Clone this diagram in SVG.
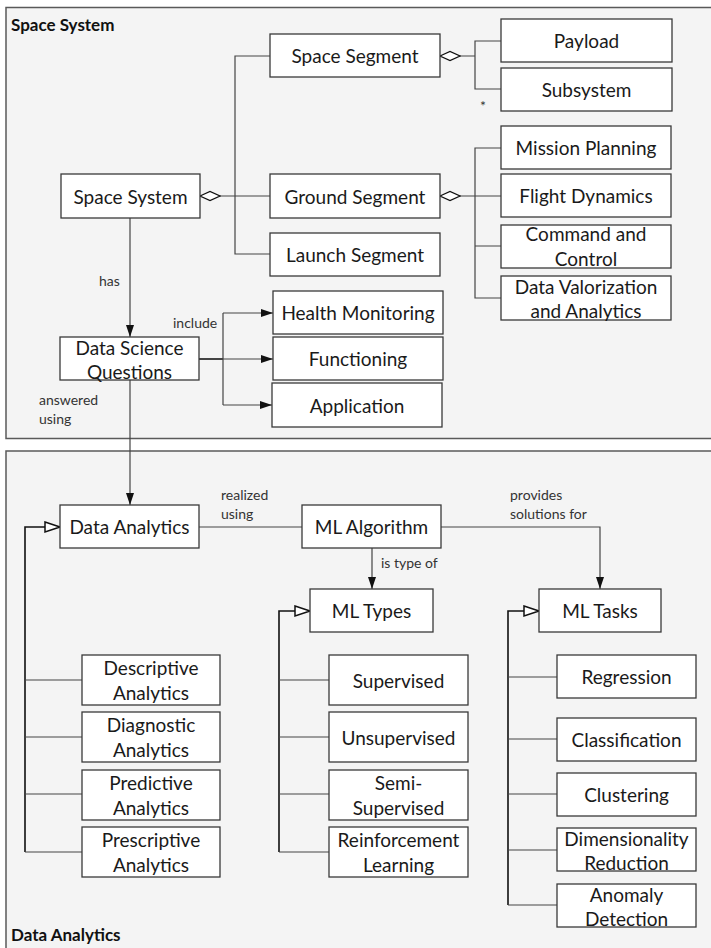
<svg xmlns="http://www.w3.org/2000/svg" width="711" height="948" viewBox="0 0 711 948">
<style>
.frame{fill:#f4f4f4;stroke:#5a5a5a;stroke-width:1.5}
.box{fill:#fff;stroke:#3a3a3a;stroke-width:1.3}
.t{font-family:Lato,"Open Sans",sans-serif;font-size:19px;fill:#1a1a1a;text-anchor:middle;dominant-baseline:central}
.lbl{font-family:Lato,"Open Sans",sans-serif;font-size:14px;fill:#333}
.title{font-family:Lato,"Open Sans",sans-serif;font-size:17px;font-weight:bold;fill:#111}
.c{fill:none;stroke:#444;stroke-width:1.2}
.g{fill:none;stroke:#111;stroke-width:1.6}
</style>
<defs>
<marker id="arr" markerUnits="userSpaceOnUse" markerWidth="12" markerHeight="10" viewBox="0 0 12 10" refX="12" refY="5" orient="auto"><path d="M0,1 L12,5 L0,9 Z" fill="#111"/></marker>
<marker id="dia" markerUnits="userSpaceOnUse" markerWidth="22" markerHeight="12" viewBox="-1 -1 22 12" refX="0" refY="5" orient="auto"><path d="M0,5 L10,0.5 L20,5 L10,9.5 Z" fill="#fff" stroke="#111" stroke-width="1.3"/></marker>
<marker id="gen" markerUnits="userSpaceOnUse" markerWidth="17" markerHeight="13" viewBox="-1 -1 17 13" refX="15" refY="5.5" orient="auto"><path d="M0,0.5 L15,5.5 L0,10.5 Z" fill="#fff" stroke="#111" stroke-width="1.5"/></marker>
</defs>
<rect width="711" height="948" fill="#fff"/>
<rect class="frame" x="6" y="7.5" width="720" height="431"/>
<rect class="frame" x="6" y="451" width="720" height="510"/>
<text class="title" x="11" y="31">Space System</text>
<text class="title" x="11" y="941">Data Analytics</text>

<g id="connectors">
<path class="c" d="M200,196 H270" marker-start="url(#dia)"/>
<path class="c" d="M270,56 H235 V254 H270"/>
<path class="c" d="M440,56 H475" marker-start="url(#dia)"/>
<path class="c" d="M501,41 H475 V89 H501"/>
<path class="c" d="M440,196 H475" marker-start="url(#dia)"/>
<path class="c" d="M501,148 H475 V298 H501"/>
<path class="c" d="M475,196 H501 M475,246 H501"/>
<text class="lbl" x="480" y="111" style="font-size:14px">*</text>
<path class="c" d="M130,218 V337" marker-end="url(#arr)"/>
<text class="lbl" x="99" y="286">has</text>
<path class="c" d="M199,359 H223" style="stroke-width:2"/>
<path class="c" d="M223,313 V405"/>
<path class="c" d="M223,313 H273" marker-end="url(#arr)"/>
<path class="c" d="M223,359 H273" marker-end="url(#arr)"/>
<path class="c" d="M223,405 H272" marker-end="url(#arr)"/>
<text class="lbl" x="173" y="328">include</text>
<path class="c" d="M130,380 V505" marker-end="url(#arr)"/>
<text class="lbl" x="39" y="405">answered</text>
<text class="lbl" x="39" y="424">using</text>
<path class="c" d="M199,527 H302"/>
<text class="lbl" x="221" y="500">realized</text>
<text class="lbl" x="221" y="519">using</text>
<path class="c" d="M372,548 V589" marker-end="url(#arr)"/>
<text class="lbl" x="381" y="568">is type of</text>
<path class="c" d="M441,527 H600 V589" marker-end="url(#arr)"/>
<text class="lbl" x="510" y="500">provides</text>
<text class="lbl" x="510" y="519">solutions for</text>
<path class="g" d="M25,852 V527 H60" marker-end="url(#gen)"/>
<path class="c" d="M25,680 H82 M25,737 H82 M25,794 H82 M25,852 H82"/>
<path class="g" d="M279,852 V611 H310" marker-end="url(#gen)"/>
<path class="c" d="M279,680 H329 M279,737 H329 M279,794 H329 M279,852 H329"/>
<path class="g" d="M508,905 V611 H539" marker-end="url(#gen)"/>
<path class="c" d="M508,677 H557 M508,739 H557 M508,794 H557 M508,850 H557 M508,905 H557"/>
</g>

<g id="n-spacesystem"><rect class="box" x="61" y="174" width="139" height="44"/><text class="t" x="130.5" y="196">Space System</text></g>
<g id="n-spacesegment"><rect class="box" x="270" y="34" width="170" height="43"/><text class="t" x="355" y="55.5">Space Segment</text></g>
<g id="n-groundsegment"><rect class="box" x="270" y="174" width="170" height="44"/><text class="t" x="355" y="196">Ground Segment</text></g>
<g id="n-launchsegment"><rect class="box" x="270" y="233" width="170" height="43"/><text class="t" x="355" y="254.5">Launch Segment</text></g>
<g id="n-payload"><rect class="box" x="501" y="19" width="171" height="43"/><text class="t" x="586.5" y="40.5">Payload</text></g>
<g id="n-subsystem"><rect class="box" x="501" y="68" width="171" height="43"/><text class="t" x="586.5" y="89.5">Subsystem</text></g>
<g id="n-missionplanning"><rect class="box" x="501" y="126" width="170" height="43"/><text class="t" x="586" y="147.5">Mission Planning</text></g>
<g id="n-flightdynamics"><rect class="box" x="501" y="174" width="170" height="43"/><text class="t" x="586" y="195.5">Flight Dynamics</text></g>
<g id="n-commandcontrol"><rect class="box" x="501" y="225" width="170" height="43"/><text class="t" x="586" y="233.5">Command and</text><text class="t" x="586" y="258.5">Control</text></g>
<g id="n-datavalorization"><rect class="box" x="501" y="276" width="170" height="44"/><text class="t" x="586" y="286">Data Valorization</text><text class="t" x="586" y="310">and Analytics</text></g>
<g id="n-healthmonitoring"><rect class="box" x="273" y="291" width="170" height="43"/><text class="t" x="358" y="312.5">Health Monitoring</text></g>
<g id="n-functioning"><rect class="box" x="273" y="337" width="170" height="43"/><text class="t" x="358" y="358.5">Functioning</text></g>
<g id="n-application"><rect class="box" x="272" y="383" width="170" height="44"/><text class="t" x="357" y="405">Application</text></g>
<g id="n-dsq"><rect class="box" x="60" y="337" width="139" height="43"/><text class="t" x="129.5" y="347">Data Science</text><text class="t" x="129.5" y="371.5">Questions</text></g>

<g id="n-dataanalytics"><rect class="box" x="60" y="505" width="139" height="43"/><text class="t" x="129.5" y="526.5">Data Analytics</text></g>
<g id="n-mlalgorithm"><rect class="box" x="302" y="505" width="139" height="43"/><text class="t" x="371.5" y="526.5">ML Algorithm</text></g>
<g id="n-mltypes"><rect class="box" x="310" y="589" width="123" height="43"/><text class="t" x="371.5" y="610.5">ML Types</text></g>
<g id="n-mltasks"><rect class="box" x="539" y="589" width="122" height="43"/><text class="t" x="600" y="610.5">ML Tasks</text></g>

<g id="n-descriptive"><rect class="box" x="82" y="655" width="138" height="50"/><text class="t" x="151" y="667.5">Descriptive</text><text class="t" x="151" y="692.5">Analytics</text></g>
<g id="n-diagnostic"><rect class="box" x="82" y="712" width="138" height="50"/><text class="t" x="151" y="724.5">Diagnostic</text><text class="t" x="151" y="749.5">Analytics</text></g>
<g id="n-predictive"><rect class="box" x="82" y="770" width="138" height="50"/><text class="t" x="151" y="782.5">Predictive</text><text class="t" x="151" y="807.5">Analytics</text></g>
<g id="n-prescriptive"><rect class="box" x="82" y="827" width="138" height="50"/><text class="t" x="151" y="839.5">Prescriptive</text><text class="t" x="151" y="864.5">Analytics</text></g>

<g id="n-supervised"><rect class="box" x="329" y="655" width="139" height="50"/><text class="t" x="398.5" y="680">Supervised</text></g>
<g id="n-unsupervised"><rect class="box" x="329" y="712" width="139" height="50"/><text class="t" x="398.5" y="737">Unsupervised</text></g>
<g id="n-semisupervised"><rect class="box" x="329" y="770" width="139" height="50"/><text class="t" x="398.5" y="782.5">Semi-</text><text class="t" x="398.5" y="807.5">Supervised</text></g>
<g id="n-reinforcement"><rect class="box" x="329" y="827" width="139" height="50"/><text class="t" x="398.5" y="839.5">Reinforcement</text><text class="t" x="398.5" y="864.5">Learning</text></g>

<g id="n-regression"><rect class="box" x="557" y="655" width="139" height="43"/><text class="t" x="626.5" y="676.5">Regression</text></g>
<g id="n-classification"><rect class="box" x="557" y="718" width="139" height="43"/><text class="t" x="626.5" y="739.5">Classification</text></g>
<g id="n-clustering"><rect class="box" x="557" y="773" width="139" height="43"/><text class="t" x="626.5" y="794.5">Clustering</text></g>
<g id="n-dimensionality"><rect class="box" x="557" y="828" width="139" height="43"/><text class="t" x="626.5" y="838">Dimensionality</text><text class="t" x="626.5" y="862.5">Reduction</text></g>
<g id="n-anomaly"><rect class="box" x="557" y="884" width="139" height="43"/><text class="t" x="626.5" y="894">Anomaly</text><text class="t" x="626.5" y="918">Detection</text></g>
</svg>
